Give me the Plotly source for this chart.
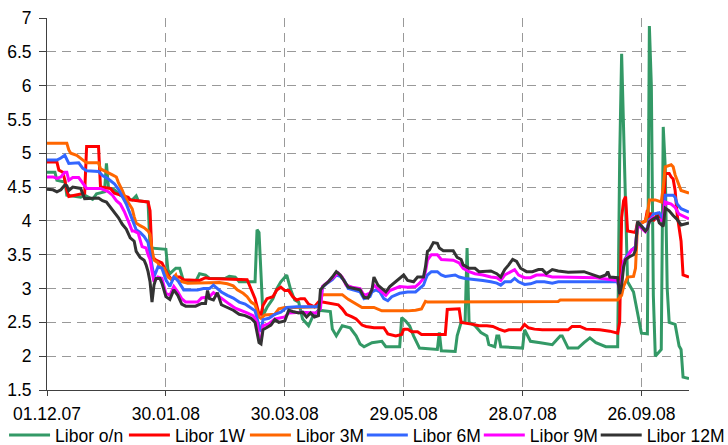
import plotly.graph_objects as go

# ---------------- data ----------------
tick_dates = ["2007-12-01", "2008-01-30", "2008-03-30", "2008-05-29", "2008-07-28", "2008-09-26"]
tick_labels = ["01.12.07", "30.01.08", "30.03.08", "29.05.08", "28.07.08", "26.09.08"]

libor_on = [
    ("2007-12-01", 4.72), ("2007-12-05", 4.72), ("2007-12-06", 4.6), ("2007-12-09", 4.58), ("2007-12-10", 4.6),
    ("2007-12-11", 4.38), ("2007-12-18", 4.35), ("2007-12-20", 4.38), ("2007-12-24", 4.32), ("2007-12-26", 4.4),
    ("2007-12-30", 4.43), ("2007-12-31", 4.85), ("2008-01-01", 4.5), ("2008-01-04", 4.46), ("2008-01-07", 4.38),
    ("2008-01-10", 4.33), ("2008-01-13", 4.31), ("2008-01-15", 4.37), ("2008-01-16", 4.3), ("2008-01-21", 4.28),
    ("2008-01-22", 3.6), ("2008-01-30", 3.58), ("2008-01-31", 3.28), ("2008-02-01", 3.22), ("2008-02-04", 3.3),
    ("2008-02-06", 3.3), ("2008-02-08", 3.1), ("2008-02-14", 3.1), ("2008-02-16", 3.22), ("2008-02-19", 3.2),
    ("2008-02-21", 3.15), ("2008-02-29", 3.15), ("2008-03-02", 3.18), ("2008-03-05", 3.17), ("2008-03-07", 3.1),
    ("2008-03-15", 3.1), ("2008-03-16", 3.87), ("2008-03-17", 3.83), ("2008-03-19", 2.6), ("2008-03-21", 2.72),
    ("2008-03-24", 2.85), ("2008-03-26", 3.0), ("2008-03-28", 3.1), ("2008-03-31", 3.2), ("2008-04-02", 2.98),
    ("2008-04-04", 2.83), ("2008-04-06", 2.8), ("2008-04-08", 2.55), ("2008-04-11", 2.45), ("2008-04-13", 2.58),
    ("2008-04-16", 2.68), ("2008-04-22", 2.66), ("2008-04-23", 2.4), ("2008-04-25", 2.3), ("2008-04-28", 2.45),
    ("2008-05-02", 2.42), ("2008-05-05", 2.3), ("2008-05-07", 2.18), ("2008-05-09", 2.14), ("2008-05-13", 2.2),
    ("2008-05-18", 2.22), ("2008-05-20", 2.14), ("2008-05-27", 2.14), ("2008-05-28", 2.57), ("2008-05-30", 2.52),
    ("2008-06-01", 2.45), ("2008-06-03", 2.3), ("2008-06-06", 2.12), ("2008-06-15", 2.1), ("2008-06-16", 2.35),
    ("2008-06-17", 2.08), ("2008-06-24", 2.07), ("2008-06-25", 2.3), ("2008-06-27", 2.5), ("2008-06-29", 2.5),
    ("2008-06-30", 3.6), ("2008-07-01", 2.5), ("2008-07-04", 2.45), ("2008-07-07", 2.35), ("2008-07-10", 2.3),
    ("2008-07-11", 2.17), ("2008-07-14", 2.14), ("2008-07-15", 2.3), ("2008-07-16", 2.3), ("2008-07-17", 2.14),
    ("2008-07-28", 2.12), ("2008-07-29", 2.39), ("2008-08-01", 2.22), ("2008-08-06", 2.2), ("2008-08-12", 2.17),
    ("2008-08-16", 2.3), ("2008-08-17", 2.3), ("2008-08-20", 2.12), ("2008-08-25", 2.12), ("2008-08-28", 2.2),
    ("2008-08-31", 2.27), ("2008-09-03", 2.2), ("2008-09-06", 2.17), ("2008-09-08", 2.14), ("2008-09-14", 2.14),
    ("2008-09-15", 4.9), ("2008-09-16", 6.47), ("2008-09-17", 5.4), ("2008-09-18", 4.1), ("2008-09-19", 3.1),
    ("2008-09-22", 2.95), ("2008-09-23", 2.8), ("2008-09-24", 2.64), ("2008-09-25", 2.45), ("2008-09-26", 2.34),
    ("2008-09-29", 2.33), ("2008-09-30", 6.88), ("2008-10-01", 6.0), ("2008-10-02", 2.9), ("2008-10-03", 2.0),
    ("2008-10-06", 2.1), ("2008-10-07", 5.39), ("2008-10-08", 4.8), ("2008-10-09", 3.0), ("2008-10-10", 2.5),
    ("2008-10-13", 2.47), ("2008-10-14", 2.3), ("2008-10-15", 2.15), ("2008-10-16", 2.1), ("2008-10-17", 1.69),
    ("2008-10-20", 1.67),
]

libor_1w = [
    ("2007-12-01", 4.87), ("2007-12-06", 4.87), ("2007-12-07", 4.75), ("2007-12-09", 4.72), ("2007-12-10", 4.6),
    ("2007-12-11", 4.45), ("2007-12-12", 4.36), ("2007-12-19", 4.41), ("2007-12-20", 4.41), ("2007-12-21", 5.1),
    ("2007-12-27", 5.1), ("2007-12-28", 4.5), ("2008-01-02", 4.48), ("2008-01-04", 4.41), ("2008-01-11", 4.35),
    ("2008-01-12", 4.31), ("2008-01-21", 4.28), ("2008-01-22", 4.15), ("2008-01-23", 3.47), ("2008-01-25", 3.42),
    ("2008-01-28", 3.38), ("2008-01-31", 3.2), ("2008-02-02", 3.13), ("2008-02-04", 3.17), ("2008-02-06", 3.17),
    ("2008-02-08", 3.13), ("2008-02-16", 3.12), ("2008-02-19", 3.16), ("2008-02-21", 3.15), ("2008-03-11", 3.13),
    ("2008-03-13", 2.98), ("2008-03-15", 2.85), ("2008-03-17", 2.62), ("2008-03-18", 2.62), ("2008-03-19", 2.75),
    ("2008-03-21", 2.85), ("2008-03-24", 2.88), ("2008-03-26", 2.98), ("2008-03-28", 3.02), ("2008-03-30", 2.97),
    ("2008-04-01", 2.97), ("2008-04-03", 2.88), ("2008-04-05", 2.83), ("2008-04-07", 2.85), ("2008-04-09", 2.85),
    ("2008-04-11", 2.77), ("2008-04-14", 2.73), ("2008-04-16", 2.8), ("2008-04-18", 2.8), ("2008-04-22", 2.78),
    ("2008-04-26", 2.76), ("2008-04-28", 2.7), ("2008-04-30", 2.62), ("2008-05-03", 2.58), ("2008-05-05", 2.55),
    ("2008-05-08", 2.46), ("2008-05-10", 2.44), ("2008-05-14", 2.42), ("2008-05-19", 2.42), ("2008-05-21", 2.33),
    ("2008-05-25", 2.3), ("2008-05-28", 2.32), ("2008-05-29", 2.4), ("2008-05-31", 2.4), ("2008-06-02", 2.36),
    ("2008-06-05", 2.36), ("2008-06-07", 2.32), ("2008-06-19", 2.32), ("2008-06-20", 2.69), ("2008-06-26", 2.7),
    ("2008-06-27", 2.5), ("2008-07-03", 2.47), ("2008-07-06", 2.45), ("2008-07-10", 2.45), ("2008-07-13", 2.44),
    ("2008-07-16", 2.4), ("2008-07-19", 2.37), ("2008-07-21", 2.39), ("2008-07-27", 2.39), ("2008-07-29", 2.47),
    ("2008-07-31", 2.42), ("2008-08-03", 2.4), ("2008-08-07", 2.39), ("2008-08-20", 2.39), ("2008-08-22", 2.44),
    ("2008-08-26", 2.44), ("2008-08-29", 2.4), ("2008-09-05", 2.39), ("2008-09-10", 2.37), ("2008-09-14", 2.34),
    ("2008-09-15", 2.5), ("2008-09-16", 4.05), ("2008-09-17", 4.3), ("2008-09-18", 4.36), ("2008-09-19", 3.85),
    ("2008-09-23", 3.83), ("2008-09-24", 3.97), ("2008-09-26", 3.97), ("2008-09-28", 4.0), ("2008-09-29", 4.16),
    ("2008-09-30", 4.05), ("2008-10-01", 4.12), ("2008-10-02", 4.0), ("2008-10-03", 4.05), ("2008-10-04", 4.1),
    ("2008-10-06", 4.02), ("2008-10-07", 4.0), ("2008-10-08", 4.7), ("2008-10-10", 4.7), ("2008-10-11", 4.65),
    ("2008-10-12", 4.62), ("2008-10-13", 4.45), ("2008-10-14", 4.1), ("2008-10-15", 3.9), ("2008-10-16", 3.7),
    ("2008-10-17", 3.2), ("2008-10-20", 3.17),
]

libor_3m = [
    ("2007-12-01", 5.15), ("2007-12-11", 5.15), ("2007-12-12", 5.05), ("2007-12-13", 5.0), ("2007-12-16", 4.97),
    ("2007-12-18", 4.92), ("2007-12-20", 4.88), ("2007-12-21", 4.86), ("2007-12-27", 4.86), ("2007-12-28", 4.77),
    ("2007-12-31", 4.73), ("2008-01-03", 4.68), ("2008-01-05", 4.65), ("2008-01-06", 4.57), ("2008-01-08", 4.45),
    ("2008-01-09", 4.38), ("2008-01-11", 4.27), ("2008-01-13", 4.18), ("2008-01-14", 4.06), ("2008-01-15", 3.97),
    ("2008-01-17", 3.93), ("2008-01-19", 3.9), ("2008-01-21", 3.85), ("2008-01-22", 3.8), ("2008-01-23", 3.58),
    ("2008-01-24", 3.42), ("2008-01-26", 3.38), ("2008-01-27", 3.32), ("2008-01-29", 3.3), ("2008-01-31", 3.17),
    ("2008-02-02", 3.13), ("2008-02-04", 3.2), ("2008-02-05", 3.12), ("2008-02-08", 3.1), ("2008-02-10", 3.08),
    ("2008-02-26", 3.09), ("2008-03-01", 3.07), ("2008-03-04", 3.04), ("2008-03-06", 2.98), ("2008-03-09", 2.93),
    ("2008-03-11", 2.88), ("2008-03-13", 2.8), ("2008-03-15", 2.76), ("2008-03-17", 2.58), ("2008-03-18", 2.56),
    ("2008-03-20", 2.61), ("2008-03-25", 2.62), ("2008-03-27", 2.7), ("2008-03-30", 2.72), ("2008-04-04", 2.72),
    ("2008-04-10", 2.73), ("2008-04-16", 2.73), ("2008-04-18", 2.91), ("2008-04-28", 2.91), ("2008-05-01", 2.84),
    ("2008-05-05", 2.77), ("2008-05-08", 2.72), ("2008-05-14", 2.72), ("2008-05-18", 2.67), ("2008-05-31", 2.67),
    ("2008-06-04", 2.68), ("2008-06-07", 2.7), ("2008-06-09", 2.81), ("2008-06-10", 2.8), ("2008-07-31", 2.81),
    ("2008-08-15", 2.81), ("2008-08-16", 2.83), ("2008-09-14", 2.83), ("2008-09-16", 2.9), ("2008-09-17", 3.03),
    ("2008-09-19", 3.17), ("2008-09-22", 3.18), ("2008-09-23", 3.3), ("2008-09-24", 3.92), ("2008-09-26", 3.97),
    ("2008-09-28", 4.0), ("2008-09-29", 4.1), ("2008-09-30", 4.31), ("2008-10-03", 4.31), ("2008-10-05", 4.29),
    ("2008-10-06", 4.28), ("2008-10-07", 4.5), ("2008-10-08", 4.8), ("2008-10-11", 4.83), ("2008-10-12", 4.8),
    ("2008-10-13", 4.68), ("2008-10-14", 4.6), ("2008-10-16", 4.45), ("2008-10-20", 4.41),
]

libor_6m = [
    ("2007-12-01", 4.9), ("2007-12-06", 4.9), ("2007-12-08", 4.93), ("2007-12-10", 4.97), ("2007-12-12", 4.85),
    ("2007-12-17", 4.86), ("2007-12-19", 4.78), ("2007-12-21", 4.74), ("2007-12-27", 4.73), ("2007-12-29", 4.67),
    ("2008-01-01", 4.62), ("2008-01-04", 4.55), ("2008-01-06", 4.47), ("2008-01-08", 4.37), ("2008-01-10", 4.25),
    ("2008-01-12", 4.1), ("2008-01-14", 3.95), ("2008-01-15", 3.87), ("2008-01-17", 3.83), ("2008-01-19", 3.77),
    ("2008-01-21", 3.68), ("2008-01-22", 3.5), ("2008-01-23", 3.3), ("2008-01-24", 3.17), ("2008-01-26", 3.32),
    ("2008-01-28", 3.3), ("2008-01-30", 3.13), ("2008-02-01", 3.03), ("2008-02-03", 3.17), ("2008-02-05", 3.12),
    ("2008-02-08", 2.98), ("2008-02-15", 2.98), ("2008-02-18", 3.0), ("2008-02-21", 3.0), ("2008-02-23", 3.05),
    ("2008-02-25", 3.0), ("2008-02-27", 2.95), ("2008-03-01", 2.9), ("2008-03-04", 2.86), ("2008-03-07", 2.8),
    ("2008-03-10", 2.77), ("2008-03-12", 2.73), ("2008-03-15", 2.67), ("2008-03-17", 2.45), ("2008-03-18", 2.36),
    ("2008-03-19", 2.54), ("2008-03-22", 2.56), ("2008-03-25", 2.62), ("2008-03-28", 2.65), ("2008-03-31", 2.72),
    ("2008-04-05", 2.73), ("2008-04-15", 2.73), ("2008-04-17", 2.78), ("2008-04-18", 3.02), ("2008-04-20", 3.07),
    ("2008-04-23", 3.13), ("2008-04-25", 3.2), ("2008-04-27", 3.18), ("2008-04-29", 3.12), ("2008-05-01", 3.0),
    ("2008-05-04", 2.98), ("2008-05-07", 2.95), ("2008-05-09", 2.85), ("2008-05-12", 2.88), ("2008-05-13", 2.95),
    ("2008-05-15", 2.98), ("2008-05-17", 2.95), ("2008-05-19", 2.85), ("2008-05-21", 2.82), ("2008-05-23", 2.88),
    ("2008-05-27", 2.93), ("2008-05-31", 2.95), ("2008-06-04", 2.95), ("2008-06-06", 3.0), ("2008-06-08", 3.05),
    ("2008-06-09", 3.13), ("2008-06-10", 3.2), ("2008-06-12", 3.25), ("2008-06-15", 3.25), ("2008-06-17", 3.2),
    ("2008-06-19", 3.18), ("2008-06-24", 3.2), ("2008-06-26", 3.17), ("2008-06-29", 3.15), ("2008-07-03", 3.14),
    ("2008-07-08", 3.12), ("2008-07-12", 3.1), ("2008-07-15", 3.08), ("2008-07-17", 3.05), ("2008-07-19", 3.1),
    ("2008-07-22", 3.1), ("2008-07-24", 3.15), ("2008-07-26", 3.1), ("2008-07-29", 3.06), ("2008-08-01", 3.07),
    ("2008-08-04", 3.1), ("2008-08-08", 3.1), ("2008-08-12", 3.08), ("2008-08-15", 3.1), ("2008-09-14", 3.1),
    ("2008-09-15", 2.96), ("2008-09-16", 3.1), ("2008-09-17", 3.4), ("2008-09-19", 3.5), ("2008-09-21", 3.57),
    ("2008-09-23", 3.62), ("2008-09-24", 3.94), ("2008-09-25", 3.96), ("2008-09-28", 3.86), ("2008-09-29", 3.9),
    ("2008-09-30", 4.0), ("2008-10-02", 4.1), ("2008-10-05", 4.12), ("2008-10-07", 4.02), ("2008-10-08", 4.38),
    ("2008-10-12", 4.38), ("2008-10-13", 4.35), ("2008-10-14", 4.25), ("2008-10-16", 4.18), ("2008-10-20", 4.13),
]

libor_9m = [
    ("2007-12-01", 4.65), ("2007-12-04", 4.65), ("2007-12-06", 4.63), ("2007-12-08", 4.65), ("2007-12-10", 4.72),
    ("2007-12-11", 4.72), ("2007-12-12", 4.6), ("2007-12-14", 4.64), ("2007-12-17", 4.64), ("2007-12-19", 4.55),
    ("2007-12-21", 4.48), ("2007-12-28", 4.48), ("2007-12-30", 4.45), ("2008-01-01", 4.43), ("2008-01-03", 4.38),
    ("2008-01-05", 4.3), ("2008-01-07", 4.25), ("2008-01-09", 4.14), ("2008-01-11", 4.0), ("2008-01-13", 3.85),
    ("2008-01-14", 3.85), ("2008-01-16", 3.82), ("2008-01-18", 3.62), ("2008-01-20", 3.6), ("2008-01-21", 3.5),
    ("2008-01-22", 3.43), ("2008-01-23", 3.25), ("2008-01-24", 3.1), ("2008-01-26", 3.17), ("2008-01-28", 3.15),
    ("2008-01-30", 2.93), ("2008-02-01", 2.9), ("2008-02-03", 3.03), ("2008-02-05", 2.95), ("2008-02-07", 2.85),
    ("2008-02-09", 2.8), ("2008-02-15", 2.8), ("2008-02-17", 2.86), ("2008-02-21", 2.88), ("2008-02-23", 2.94),
    ("2008-02-25", 2.9), ("2008-02-28", 2.83), ("2008-03-02", 2.77), ("2008-03-05", 2.71), ("2008-03-08", 2.68),
    ("2008-03-11", 2.64), ("2008-03-14", 2.6), ("2008-03-16", 2.5), ("2008-03-17", 2.25), ("2008-03-18", 2.22),
    ("2008-03-19", 2.45), ("2008-03-22", 2.48), ("2008-03-25", 2.55), ("2008-03-30", 2.58), ("2008-04-01", 2.64),
    ("2008-04-07", 2.65), ("2008-04-15", 2.64), ("2008-04-17", 2.7), ("2008-04-18", 3.03), ("2008-04-21", 3.1),
    ("2008-04-24", 3.17), ("2008-04-26", 3.23), ("2008-04-28", 3.17), ("2008-04-30", 3.05), ("2008-05-03", 3.02),
    ("2008-05-07", 3.0), ("2008-05-09", 2.9), ("2008-05-12", 2.93), ("2008-05-14", 3.05), ("2008-05-16", 3.0),
    ("2008-05-18", 2.95), ("2008-05-20", 2.9), ("2008-05-22", 2.97), ("2008-05-27", 3.03), ("2008-05-31", 3.02),
    ("2008-06-04", 3.03), ("2008-06-06", 3.08), ("2008-06-08", 3.15), ("2008-06-09", 3.25), ("2008-06-10", 3.42),
    ("2008-06-12", 3.5), ("2008-06-15", 3.5), ("2008-06-17", 3.43), ("2008-06-23", 3.42), ("2008-06-26", 3.38),
    ("2008-06-28", 3.3), ("2008-07-01", 3.25), ("2008-07-04", 3.22), ("2008-07-08", 3.2), ("2008-07-12", 3.17),
    ("2008-07-15", 3.16), ("2008-07-17", 3.12), ("2008-07-19", 3.2), ("2008-07-22", 3.25), ("2008-07-24", 3.28),
    ("2008-07-26", 3.2), ("2008-07-29", 3.16), ("2008-08-01", 3.16), ("2008-08-04", 3.2), ("2008-08-08", 3.2),
    ("2008-08-12", 3.17), ("2008-08-15", 3.17), ("2008-09-03", 3.16), ("2008-09-14", 3.12), ("2008-09-15", 2.98),
    ("2008-09-16", 3.15), ("2008-09-17", 3.4), ("2008-09-19", 3.47), ("2008-09-21", 3.57), ("2008-09-23", 3.6),
    ("2008-09-24", 3.95), ("2008-09-25", 3.92), ("2008-09-28", 3.84), ("2008-09-29", 3.88), ("2008-09-30", 4.0),
    ("2008-10-02", 4.05), ("2008-10-05", 4.02), ("2008-10-07", 4.0), ("2008-10-08", 4.28), ("2008-10-11", 4.25),
    ("2008-10-13", 4.2), ("2008-10-15", 4.1), ("2008-10-20", 4.03),
]

libor_12m = [
    ("2007-12-01", 4.47), ("2007-12-04", 4.46), ("2007-12-06", 4.43), ("2007-12-08", 4.46), ("2007-12-10", 4.53),
    ("2007-12-11", 4.52), ("2007-12-12", 4.45), ("2007-12-14", 4.5), ("2007-12-18", 4.48), ("2007-12-20", 4.33),
    ("2007-12-27", 4.34), ("2007-12-29", 4.3), ("2007-12-31", 4.28), ("2008-01-02", 4.2), ("2008-01-04", 4.13),
    ("2008-01-06", 4.05), ("2008-01-08", 3.95), ("2008-01-10", 3.88), ("2008-01-12", 3.75), ("2008-01-14", 3.7),
    ("2008-01-15", 3.55), ("2008-01-17", 3.46), ("2008-01-19", 3.42), ("2008-01-20", 3.35), ("2008-01-21", 3.25),
    ("2008-01-22", 3.1), ("2008-01-23", 2.8), ("2008-01-24", 3.05), ("2008-01-25", 3.15), ("2008-01-27", 3.15),
    ("2008-01-28", 3.08), ("2008-01-30", 2.88), ("2008-02-01", 2.84), ("2008-02-03", 2.98), ("2008-02-05", 2.9),
    ("2008-02-07", 2.77), ("2008-02-09", 2.74), ("2008-02-14", 2.74), ("2008-02-17", 2.78), ("2008-02-19", 2.78),
    ("2008-02-20", 2.97), ("2008-02-21", 2.85), ("2008-02-23", 2.83), ("2008-02-25", 2.94), ("2008-02-27", 2.76),
    ("2008-03-01", 2.72), ("2008-03-04", 2.68), ("2008-03-07", 2.62), ("2008-03-10", 2.6), ("2008-03-13", 2.56),
    ("2008-03-15", 2.5), ("2008-03-17", 2.2), ("2008-03-18", 2.18), ("2008-03-19", 2.39), ("2008-03-21", 2.42),
    ("2008-03-23", 2.46), ("2008-03-25", 2.54), ("2008-03-27", 2.5), ("2008-03-30", 2.52), ("2008-04-01", 2.68),
    ("2008-04-03", 2.66), ("2008-04-06", 2.64), ("2008-04-08", 2.65), ("2008-04-10", 2.58), ("2008-04-12", 2.64),
    ("2008-04-14", 2.58), ("2008-04-16", 2.6), ("2008-04-17", 2.98), ("2008-04-19", 3.05), ("2008-04-21", 3.1),
    ("2008-04-23", 3.17), ("2008-04-25", 3.25), ("2008-04-27", 3.2), ("2008-04-29", 3.1), ("2008-05-01", 3.02),
    ("2008-05-04", 3.0), ("2008-05-07", 2.98), ("2008-05-09", 2.87), ("2008-05-11", 2.86), ("2008-05-13", 2.98),
    ("2008-05-14", 3.17), ("2008-05-16", 3.05), ("2008-05-18", 3.0), ("2008-05-20", 2.95), ("2008-05-22", 3.03),
    ("2008-05-24", 3.08), ("2008-05-27", 3.15), ("2008-05-29", 3.2), ("2008-05-31", 3.12), ("2008-06-03", 3.1),
    ("2008-06-05", 3.17), ("2008-06-08", 3.17), ("2008-06-09", 3.32), ("2008-06-10", 3.55), ("2008-06-11", 3.57),
    ("2008-06-13", 3.68), ("2008-06-15", 3.67), ("2008-06-16", 3.6), ("2008-06-18", 3.56), ("2008-06-23", 3.56),
    ("2008-06-25", 3.46), ("2008-06-27", 3.43), ("2008-06-28", 3.35), ("2008-07-01", 3.3), ("2008-07-04", 3.3),
    ("2008-07-06", 3.25), ("2008-07-12", 3.26), ("2008-07-15", 3.22), ("2008-07-17", 3.17), ("2008-07-19", 3.28),
    ("2008-07-21", 3.35), ("2008-07-23", 3.43), ("2008-07-25", 3.4), ("2008-07-27", 3.3), ("2008-07-30", 3.25),
    ("2008-08-02", 3.25), ("2008-08-05", 3.28), ("2008-08-07", 3.28), ("2008-08-09", 3.22), ("2008-08-12", 3.28),
    ("2008-08-15", 3.26), ("2008-08-20", 3.24), ("2008-08-28", 3.25), ("2008-09-02", 3.2), ("2008-09-05", 3.17),
    ("2008-09-08", 3.2), ("2008-09-09", 3.25), ("2008-09-10", 3.17), ("2008-09-14", 3.16), ("2008-09-15", 2.92),
    ("2008-09-16", 3.05), ("2008-09-17", 3.32), ("2008-09-18", 3.43), ("2008-09-20", 3.47), ("2008-09-22", 3.5),
    ("2008-09-23", 3.57), ("2008-09-24", 3.99), ("2008-09-26", 3.92), ("2008-09-28", 3.85), ("2008-09-29", 3.88),
    ("2008-09-30", 3.99), ("2008-10-02", 4.03), ("2008-10-04", 4.06), ("2008-10-05", 3.97), ("2008-10-07", 3.92),
    ("2008-10-08", 4.19), ("2008-10-10", 4.15), ("2008-10-12", 4.08), ("2008-10-14", 4.02), ("2008-10-16", 3.94),
    ("2008-10-20", 3.97),
]

series_names = ["Libor o/n", "Libor 1W", "Libor 3M", "Libor 6M", "Libor 9M", "Libor 12M"]
series_data = [libor_on, libor_1w, libor_3m, libor_6m, libor_9m, libor_12m]

# ---------------- styling ----------------
colors = ["#339966", "#FF0000", "#FF6600", "#3366FF", "#FF00FF", "#333333"]
legend_x = [-0.0669, 0.1198, 0.3083, 0.4904, 0.6726, 0.8547]
FONT = "Liberation Sans, Arial, sans-serif"
FS = 17.5

fig = go.Figure()
for i, (name, data, col) in enumerate(zip(series_names, series_data, colors)):
    xs = [d for d, _ in data]
    ys = [v for _, v in data]
    fig.add_trace(go.Scatter(
        x=xs, y=ys, mode="lines", name=name,
        line=dict(color=col, width=3),
        legend="legend" if i == 0 else f"legend{i + 1}",
    ))

layout_legends = {}
for i, lx in enumerate(legend_x):
    key = "legend" if i == 0 else f"legend{i + 1}"
    layout_legends[key] = dict(
        orientation="h", x=lx, xanchor="left", y=-0.1215, yanchor="middle",
        font=dict(family=FONT, size=FS, color="black"),
        itemwidth=41, bgcolor="rgba(0,0,0,0)", borderwidth=0,
    )

fig.update_layout(
    width=728, height=445,
    margin=dict(l=47, r=39, t=18, b=55, autoexpand=False),
    paper_bgcolor="white", plot_bgcolor="white",
    font=dict(family=FONT, size=FS, color="black"),
    showlegend=True,
    **layout_legends,
)

fig.update_xaxes(
    type="date", range=["2007-12-01", "2008-10-20"],
    tickvals=tick_dates, ticktext=tick_labels,
    showgrid=True, gridcolor="#999999", gridwidth=1, griddash="9px,6px",
    showline=True, linecolor="#404040", linewidth=1,
    ticks="outside", ticklen=5, tickcolor="#404040", tickwidth=1,
    zeroline=False, tickfont=dict(family=FONT, size=FS, color="black"),
    ticklabelstandoff=3,
)
fig.update_yaxes(
    range=[1.5, 7], tick0=1.5, dtick=0.5,
    showgrid=True, gridcolor="#999999", gridwidth=1, griddash="9px,6px",
    showline=True, linecolor="#404040", linewidth=1,
    ticks="outside", ticklen=7, tickcolor="#404040", tickwidth=1,
    zeroline=False, tickfont=dict(family=FONT, size=FS, color="black"),
    ticklabelstandoff=4,
)

fig.write_html(
    "out.html",
    config={"displayModeBar": False},
    post_script="document.body.style.margin='0';document.body.style.padding='0';"
                "document.body.style.overflow='hidden';",
)
